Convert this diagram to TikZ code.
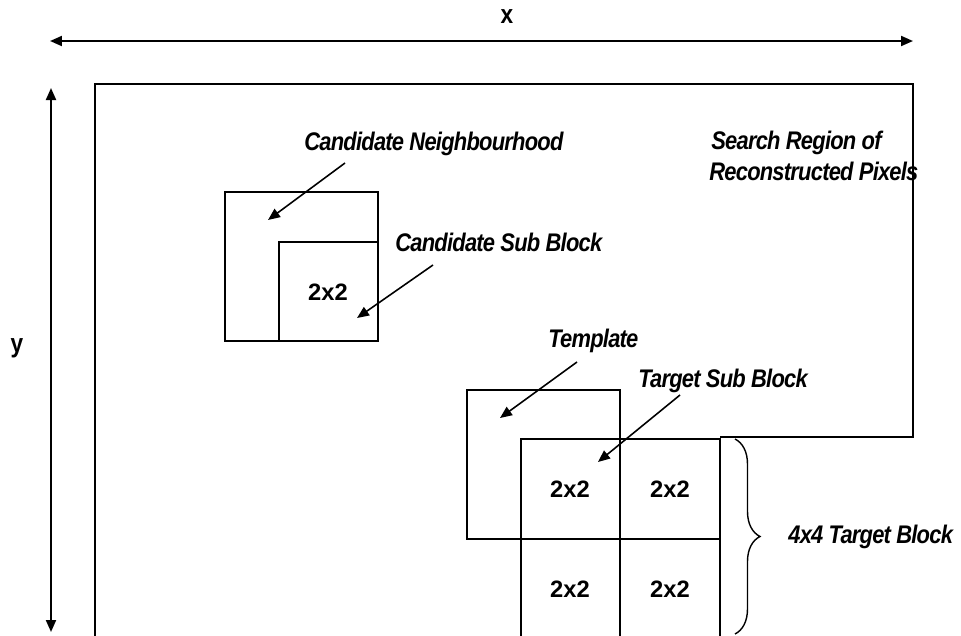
\documentclass[tikz,border=0pt]{standalone}
\usepackage{fontspec}
\setmainfont{Liberation Sans}
\newfontfamily\lblfont{Liberation Sans}[FakeStretch=0.86,LetterSpace=-3]
\usetikzlibrary{arrows.meta,decorations.pathreplacing}
\tikzset{lbl/.style={font=\lblfont\bfseries\itshape\fontsize{14.5}{16}\selectfont,anchor=west,inner sep=0pt},
  cell/.style={font=\bfseries\fontsize{13.5}{15}\selectfont,inner sep=0pt}}
\begin{document}
\begin{tikzpicture}[x=0.02cm,y=-0.02cm,>={Triangle[length=2.4mm,width=2mm]},line join=miter]
\useasboundingbox (0,0) rectangle (961,636);
% --- axes
\coordinate (xl) at (50,41); \coordinate (xr) at (913,41);
\coordinate (yt) at (51,88); \coordinate (yb) at (51,632);
\draw[<->,line width=1.1pt] (xl) -- (xr);
\draw[<->,line width=1.1pt] (yt) -- (yb);
\node[font=\lblfont\bfseries\fontsize{15}{16}\selectfont] (xlab) at (507,17) {x};
\node[font=\lblfont\bfseries\fontsize{15}{16}\selectfont] (ylab) at (17,348) {y};
% --- search region (cut by the target block)
\draw[line width=0.8pt] (95,636) -- (95,84) -- (913,84) -- (913,437) -- (720,437);
\node[lbl] (srch1) at (711,143) {Search Region of};
\node[lbl] (srch2) at (709,171) {Reconstructed Pixels};
% --- candidate
\draw[line width=0.8pt] (225,192) rectangle (378,341);
\draw[line width=0.8pt] (279,242) rectangle (378,341);
\node[cell] (c22) at (328,292) {2x2};
\node[lbl] (cnlab) at (304,144) {Candidate Neighbourhood};
\node[lbl] (cslab) at (395,242) {Candidate Sub Block};
\coordinate (cnt) at (345,163); \coordinate (cnh) at (268,220);
\coordinate (cst) at (433,265); \coordinate (csh) at (357,318);
\draw[->,line width=0.9pt] (cnt) -- (cnh);
\draw[->,line width=0.9pt] (cst) -- (csh);
% --- template and target block
\draw[line width=0.8pt] (467,390) rectangle (620,539);
\draw[line width=0.8pt] (521,439) rectangle (720,640);
\draw[line width=0.8pt] (620,439) -- (620,640) (521,539) -- (720,539);
\node[cell] (t11) at (570,489) {2x2};
\node[cell] (t12) at (670,489) {2x2};
\node[cell] (t21) at (570,589) {2x2};
\node[cell] (t22) at (670,589) {2x2};
\node[lbl] (tplab) at (548,341) {Template};
\node[lbl] (tslab) at (638,381) {Target Sub Block};
\coordinate (tpt) at (577,362); \coordinate (tph) at (500,418);
\coordinate (tst) at (680,395); \coordinate (tsh) at (598,462);
\draw[->,line width=0.9pt] (tpt) -- (tph);
\draw[->,line width=0.9pt] (tst) -- (tsh);
% --- brace
\coordinate (bt) at (735,439); \coordinate (bb) at (735,634);
\draw[line width=0.8pt,decoration={brace,amplitude=0.5cm},decorate] (bt) -- (bb);
\node[lbl] (tblab) at (788,537) {4x4 Target Block};
\end{tikzpicture}
\end{document}
